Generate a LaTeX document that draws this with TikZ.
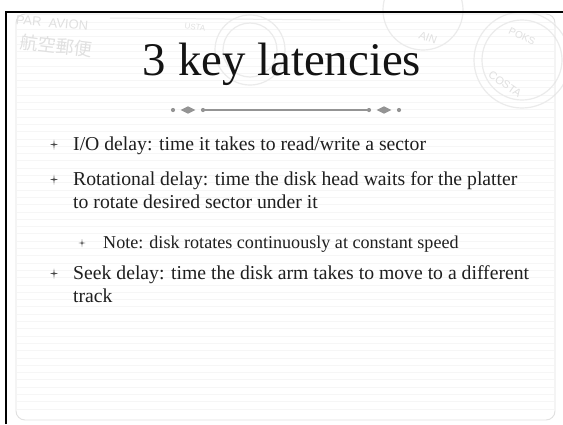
\documentclass[tikz,border=0pt]{standalone}
\usepackage{fontspec}
\usetikzlibrary{shapes.geometric}
\setmainfont{Liberation Serif}
\newfontfamily\cjkfont{Noto Sans CJK JP}
\newfontfamily\stampfont{Liberation Sans}
\newcommand\starbullet[4]{%
  \fill[black!72, shift={(#1,#2)}, xscale=#3, yscale=#4]
    (0,-1) -- (0.14,-0.14) -- (1,0) -- (0.14,0.14) -- (0,1) -- (-0.14,0.14) -- (-1,0) -- (-0.14,-0.14) -- cycle;}
\begin{document}
\begin{tikzpicture}[x=1pt,y=-1pt,
  body/.style={anchor=base west, inner sep=0pt, font=\fontsize{19.7}{23}\selectfont, text=black!88},
  small/.style={anchor=base west, inner sep=0pt, font=\fontsize{18.1}{21}\selectfont, text=black!88},
  stamptext/.style={text=black!12, inner sep=0pt, font=\stampfont\fontsize{13}{13}\selectfont},
  stampring/.style={draw=black!8, line width=1.2pt},
  orndot/.style={circle, fill=black!42, inner sep=0pt, minimum size=4.2pt},
  orndiam/.style={diamond, fill=black!42, inner sep=0pt, minimum width=15pt, minimum height=7.5pt},
  ornline/.style={draw=black!42, line width=1.3pt}]
\useasboundingbox (0,0) rectangle (563,424);
\fill[white] (0,0) rectangle (563,424);
% ruled paper lines
\foreach \yy in {22,29.3,...,416} \draw[black!3.5, line width=0.6pt] (17,\yy) -- (554,\yy);
% faint postal stamps
\node[stamptext, rotate=-5] (par) at (52,23) {PAR\ \ AVION};
\node[stamptext, rotate=-7, font=\cjkfont\fontsize{18}{18}\selectfont] (jp) at (56,46) {航空郵便};
\node[stamptext, font=\stampfont\fontsize{8}{8}\selectfont, rotate=-8] (post) at (195,27) {USTA};
\draw[stampring] (250,50) circle (35pt);
\draw[stampring] (250,50) circle (27pt);
\draw[stampring] (423,10) circle (40pt);
\draw[stampring] (522,60) circle (48pt);
\draw[stampring] (522,60) circle (40pt);
\node[stamptext, rotate=-20, font=\stampfont\fontsize{11}{11}\selectfont] (ain) at (428,38) {AIN};
\node[stamptext, rotate=-35, font=\stampfont\fontsize{11}{11}\selectfont] (costa) at (505,84) {COSTA};
\node[stamptext, rotate=-25, font=\stampfont\fontsize{10}{10}\selectfont] (ncs) at (522,36) {POKS};
\draw[black!8, line width=1pt] (110,18) -- (340,20);
% inner rounded frame
\draw[black!12, line width=0.9pt, rounded corners=9pt] (16,14) rectangle (555,420);
% outer black frame
\draw[line width=2.3pt] (6,424) -- (6,12) -- (563,12);
% title
\node[anchor=base, inner sep=0pt, font=\fontsize{46.8}{52}\selectfont, text=black!92] (title) at (282,75) {3 key latencies};
% ornament
\coordinate (ol) at (203,110);
\coordinate (or) at (369,110);
\draw[ornline] (ol) -- (or);
\node[orndot] (d1) at (173,110) {};
\node[orndiam] (m1) at (188,110) {};
\node[orndot] (d2) at (ol) {};
\node[orndot] (d3) at (or) {};
\node[orndiam] (m2) at (384,110) {};
\node[orndot] (d4) at (399,110) {};
% bullets
\starbullet{54}{144.5}{4}{5}
\node[body] (b1) at (73,150) {I/O delay: time it takes to read/write a sector};
\starbullet{54}{179.5}{4}{5}
\node[body] (b2) at (73,185) {Rotational delay: time the disk head waits for the platter};
\node[body] (b2b) at (73,208) {to rotate desired sector under it};
\starbullet{82}{243}{3.3}{4}
\node[small] (b3) at (103,248) {Note: disk rotates continuously at constant speed};
\starbullet{54}{273.5}{4}{5}
\node[body] (b4) at (73,279) {Seek delay: time the disk arm takes to move to a different};
\node[body] (b4b) at (73,302) {track};
\end{tikzpicture}
\end{document}
